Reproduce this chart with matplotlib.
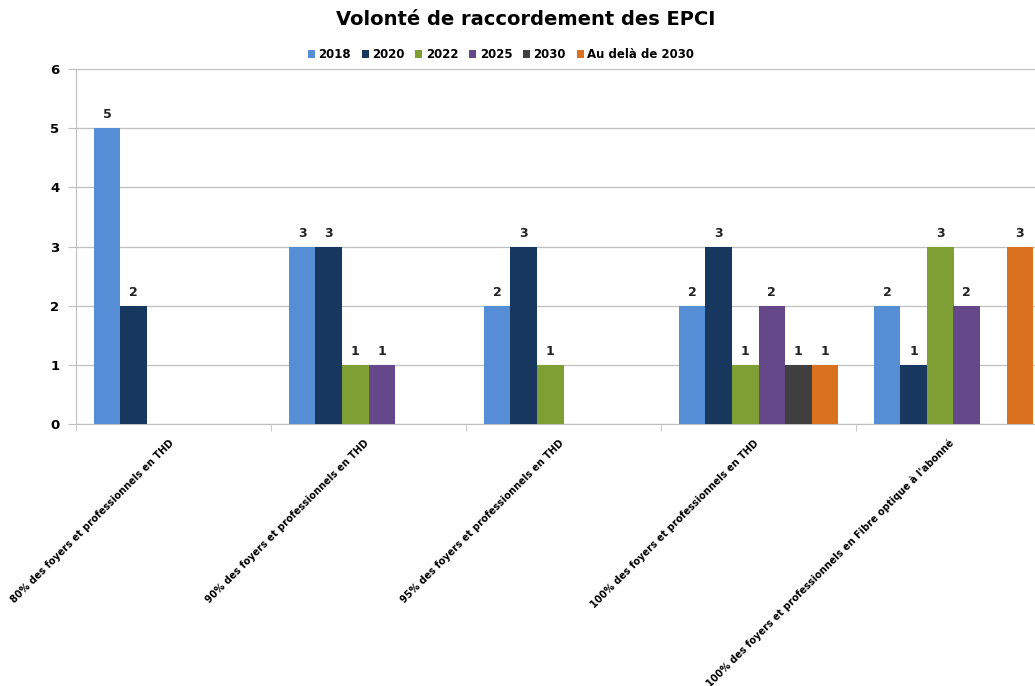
import numpy as np
import matplotlib.pyplot as plt
import matplotlib.transforms as mtransforms

# categories and series
categories = [
    "80% des foyers et professionnels en THD",
    "90% des foyers et professionnels en THD",
    "95% des foyers et professionnels en THD",
    "100% des foyers et professionnels en THD",
    "100% des foyers et professionnels en Fibre optique à l'abonné",
]
years = ["2018", "2020", "2022", "2025", "2030", "Au delà de 2030"]
v2018 = [5, 3, 2, 2, 2]
v2020 = [2, 3, 3, 3, 1]
v2022 = [np.nan, 1, 1, 1, 3]
v2025 = [np.nan, 1, np.nan, 2, 2]
v2030 = [np.nan, np.nan, np.nan, 1, np.nan]
vapres = [np.nan, np.nan, np.nan, 1, 3]
series = [v2018, v2020, v2022, v2025, v2030, vapres]
colors = ["#558ED5", "#17375E", "#7F9F35", "#64488A", "#404040", "#D9711F"]

plt.rcParams['font.family'] = ['DejaVu Sans']
fig = plt.figure(figsize=(10.35, 6.86), dpi=100)
ax = fig.add_axes([76 / 1035, 262 / 686, 975 / 1035, 355 / 686])

x = np.arange(len(categories))
w = 0.136
for i, (vals, col, lab) in enumerate(zip(series, colors, years)):
    bars = ax.bar(x + (i - 2.5) * w, vals, w, color=col, label=lab, zorder=3)
    ax.bar_label(bars, labels=["" if np.isnan(v) else str(int(v)) for v in vals],
                 padding=5, fontsize=9, fontweight='bold', color='#222222')

ax.set_xlim(-0.5, len(categories) - 0.5)
ax.set_ylim(0, 6)
ax.set_yticks(range(7))
ax.yaxis.grid(True, color='#BFBFBF', linewidth=0.9, zorder=0)
ax.set_axisbelow(True)
for s in ['top', 'right']:
    ax.spines[s].set_visible(False)
for s in ['left', 'bottom']:
    ax.spines[s].set_color('#BFBFBF')
ax.tick_params(axis='y', length=6, color='#BFBFBF', labelsize=9.5, pad=6)
for t in ax.get_yticklabels():
    t.set_fontweight('bold')

ax.set_xticks(x)
ax.set_xticklabels(categories, rotation=45, ha='right', rotation_mode='anchor',
                   fontsize=7, fontweight='bold')
ax.tick_params(axis='x', which='major', length=0, pad=10)
# nudge the rotated labels a little to the left
shift = mtransforms.ScaledTranslation(-5 / 100, 0, fig.dpi_scale_trans)
for t in ax.get_xticklabels():
    t.set_transform(t.get_transform() + shift)
ax.set_xticks(np.arange(len(categories) + 1) - 0.5, minor=True)
ax.tick_params(axis='x', which='minor', length=5, color='#BFBFBF')

fig.suptitle("Volonté de raccordement des EPCI", x=0.508, y=0.985,
             fontsize=14, fontweight='bold')
fig.legend(loc='center', bbox_to_anchor=(0.484, 0.92), ncol=6, frameon=False,
           handlelength=0.6, handleheight=0.6, handletextpad=0.3, columnspacing=0.9,
           prop={'size': 8.5, 'weight': 'bold'})

fig.savefig("out.png", dpi=100)
